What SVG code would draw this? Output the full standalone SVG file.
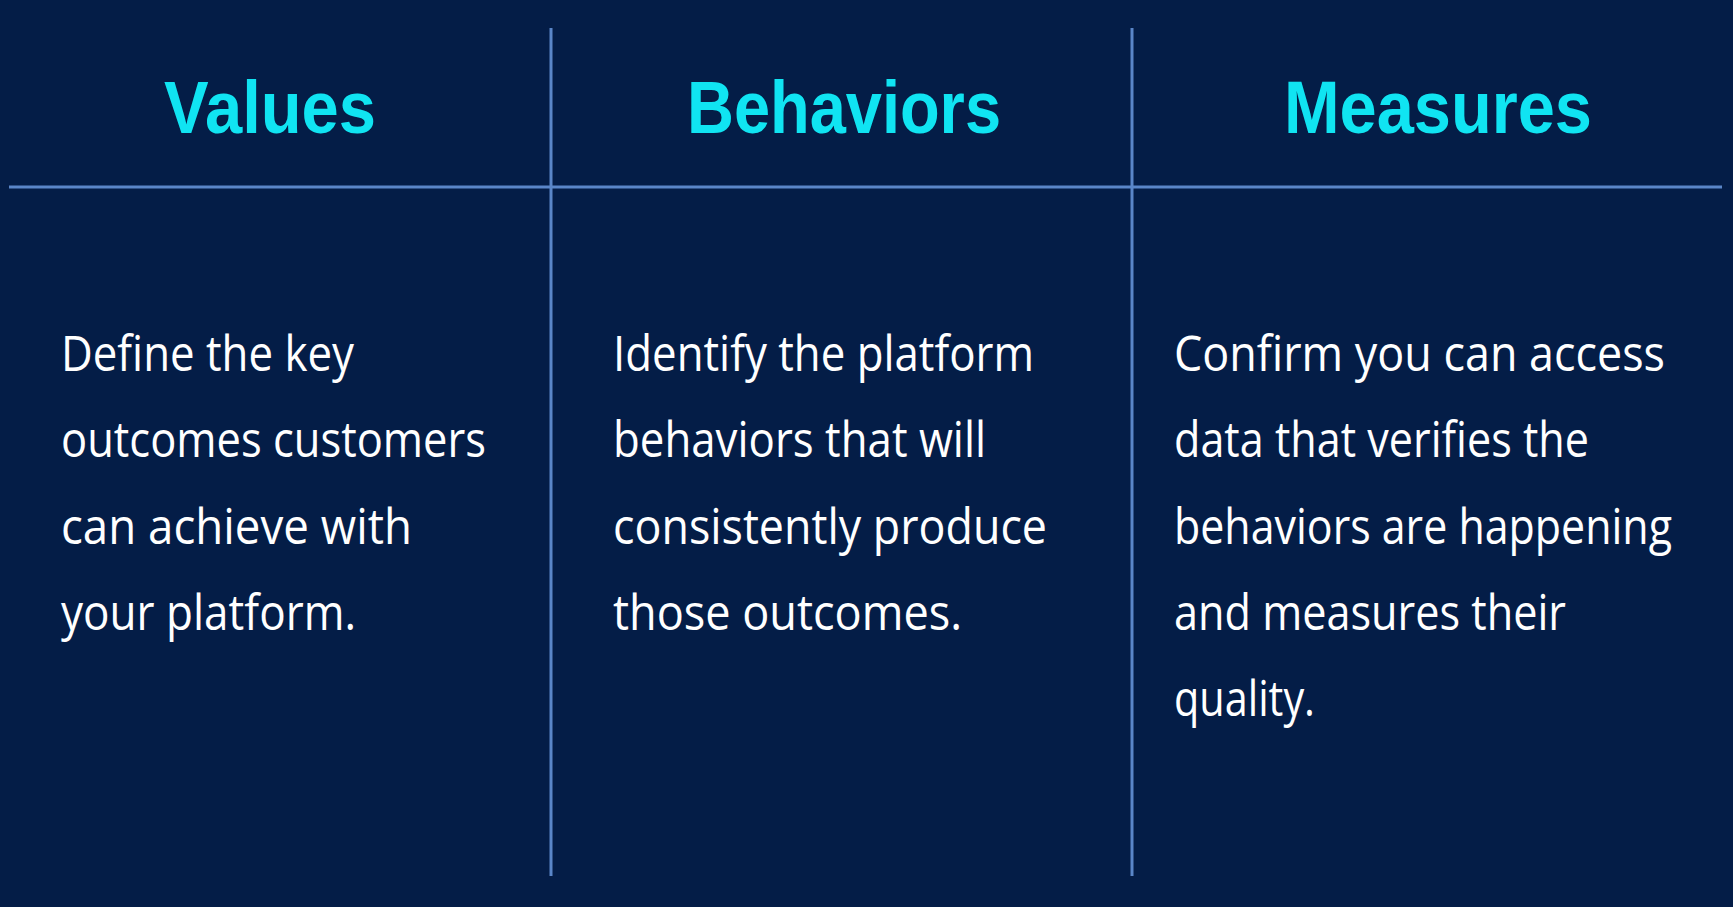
<svg xmlns="http://www.w3.org/2000/svg" width="1733" height="907" viewBox="0 0 1733 907">
<style>
.t{font-family:"Liberation Sans",Arial,sans-serif;font-weight:bold;font-size:74px;fill:#10e4f2;text-anchor:middle}
.b{font-family:"Open Sans","Liberation Sans",sans-serif;font-size:50px;fill:#ffffff}
.l{stroke:#5a86c8;stroke-width:3}
</style>
<rect width="1733" height="907" fill="#041d47"/>
<g id="connectors">
<line class="l" x1="9" y1="187" x2="1722" y2="187"/>
<line class="l" x1="551" y1="28" x2="551" y2="876"/>
<line class="l" x1="1132" y1="28" x2="1132" y2="876"/>
</g>
<g id="values">
<text class="t" x="270" y="133" textLength="212" lengthAdjust="spacingAndGlyphs">Values</text>
<text class="b" x="61" y="371" textLength="293" lengthAdjust="spacingAndGlyphs">Define the key</text>
<text class="b" x="61" y="457" textLength="425" lengthAdjust="spacingAndGlyphs">outcomes customers</text>
<text class="b" x="61" y="544" textLength="351" lengthAdjust="spacingAndGlyphs">can achieve with</text>
<text class="b" x="61" y="630" textLength="295" lengthAdjust="spacingAndGlyphs">your platform.</text>
</g>
<g id="behaviors">
<text class="t" x="844" y="133" textLength="314" lengthAdjust="spacingAndGlyphs">Behaviors</text>
<text class="b" x="613" y="371" textLength="421" lengthAdjust="spacingAndGlyphs">Identify the platform</text>
<text class="b" x="613" y="457" textLength="373" lengthAdjust="spacingAndGlyphs">behaviors that will</text>
<text class="b" x="613" y="544" textLength="434" lengthAdjust="spacingAndGlyphs">consistently produce</text>
<text class="b" x="613" y="630" textLength="349" lengthAdjust="spacingAndGlyphs">those outcomes.</text>
</g>
<g id="measures">
<text class="t" x="1438" y="133" textLength="308" lengthAdjust="spacingAndGlyphs">Measures</text>
<text class="b" x="1174" y="371" textLength="491" lengthAdjust="spacingAndGlyphs">Confirm you can access</text>
<text class="b" x="1174" y="457" textLength="415" lengthAdjust="spacingAndGlyphs">data that verifies the</text>
<text class="b" x="1174" y="544" textLength="498" lengthAdjust="spacingAndGlyphs">behaviors are happening</text>
<text class="b" x="1174" y="630" textLength="392" lengthAdjust="spacingAndGlyphs">and measures their</text>
<text class="b" x="1174" y="716" textLength="141" lengthAdjust="spacingAndGlyphs">quality.</text>
</g>
</svg>
